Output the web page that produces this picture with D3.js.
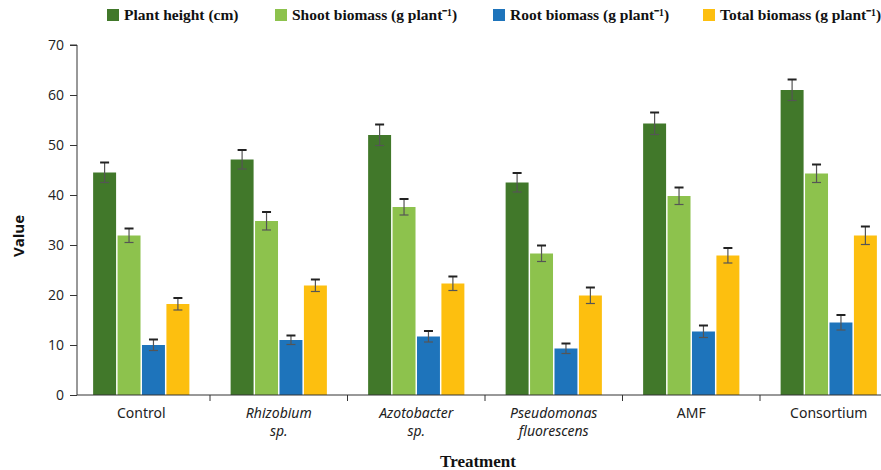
<!DOCTYPE html>
<html><head><meta charset="utf-8">
<script src="https://cdn.jsdelivr.net/npm/d3@7/dist/d3.min.js"></script>
<style>body{margin:0;background:#fff}svg{display:block}</style>
</head><body><svg id="c" width="881" height="470"></svg>
<script>
const categories = ["Control", "Rhizobium sp.", "Azotobacter sp.", "Pseudomonas fluorescens", "AMF", "Consortium"];
const catLines = [["Control"], ["Rhizobium", "sp."], ["Azotobacter", "sp."], ["Pseudomonas", "fluorescens"], ["AMF"], ["Consortium"]];
const catItalic = [false, true, true, true, false, false];
const seriesNames = ["Plant height (cm)", "Shoot biomass (g plant\u207B\u00B9)", "Root biomass (g plant\u207B\u00B9)", "Total biomass (g plant\u207B\u00B9)"];
const colors = ["#41782a", "#8dc24d", "#1e74bb", "#fdbf0f"];
const plantHeight = [44.5, 47.1, 52.0, 42.5, 54.3, 61.0];
const shootBiomass = [31.9, 34.8, 37.6, 28.3, 39.8, 44.3];
const rootBiomass = [10.0, 11.0, 11.7, 9.3, 12.7, 14.5];
const totalBiomass = [18.2, 21.9, 22.3, 19.9, 27.9, 31.9];
const plantHeightErr = [2.0, 1.9, 2.1, 1.9, 2.2, 2.1];
const shootBiomassErr = [1.4, 1.8, 1.6, 1.6, 1.7, 1.8];
const rootBiomassErr = [1.1, 0.9, 1.1, 1.0, 1.2, 1.5];
const totalBiomassErr = [1.2, 1.2, 1.4, 1.6, 1.5, 1.8];
const yTicks = [0, 10, 20, 30, 40, 50, 60, 70];

const values = [plantHeight, shootBiomass, rootBiomass, totalBiomass];
const errs = [plantHeightErr, shootBiomassErr, rootBiomassErr, totalBiomassErr];

const svg = d3.select("#c");
const x = d3.scaleBand().domain(categories).range([72.5, 897.5]).paddingInner(0.3).paddingOuter(0.15);
const xi = d3.scaleBand().domain(seriesNames).range([0, x.bandwidth()]).paddingInner(0.06);
const y = d3.scaleLinear().domain([0, 70]).range([395, 45]);
const axisX = 77;

// y axis
const ya = svg.append("g").attr("transform", `translate(${axisX},0)`)
  .call(d3.axisLeft(y).tickValues(yTicks).tickSize(7).tickPadding(6));
ya.select(".domain").attr("stroke", "#333").attr("d", `M-7,${y(70)}H0V${y(0)}`);
ya.selectAll(".tick line").attr("stroke", "#333");
ya.selectAll(".tick text").attr("font-family", "'Open Sans', sans-serif").attr("font-size", 14).attr("fill", "#222");

// bars
const data = [];
categories.forEach((c, i) => seriesNames.forEach((s, j) => data.push({c, s, j, v: values[j][i], e: errs[j][i]})));
svg.append("g").selectAll("rect").data(data).join("rect")
  .attr("x", d => x(d.c) + xi(d.s))
  .attr("width", xi.bandwidth())
  .attr("y", d => y(d.v))
  .attr("height", d => y(0) - y(d.v))
  .attr("fill", d => colors[d.j]);

// error bars
const eg = svg.append("g").attr("stroke", "#333");
data.forEach(d => {
  const cx = x(d.c) + xi(d.s) + xi.bandwidth() / 2;
  eg.append("line").attr("x1", cx).attr("x2", cx).attr("y1", y(d.v + d.e)).attr("y2", y(d.v - d.e)).attr("stroke-width", 1.2).attr("stroke", "#555");
  eg.append("line").attr("x1", cx - 4.5).attr("x2", cx + 4.5).attr("y1", y(d.v + d.e)).attr("y2", y(d.v + d.e)).attr("stroke-width", 2).attr("stroke", "#222");
  eg.append("line").attr("x1", cx - 4.5).attr("x2", cx + 4.5).attr("y1", y(d.v - d.e)).attr("y2", y(d.v - d.e)).attr("stroke-width", 1.2).attr("stroke", "#555");
});

// x axis
svg.append("line").attr("x1", axisX).attr("x2", 881).attr("y1", y(0)).attr("y2", y(0)).attr("stroke", "#333");
const step = x.step();
categories.slice(1).forEach(c => {
  const bx = x(c) - step * x.paddingInner() / 2;
  svg.append("line").attr("x1", bx).attr("x2", bx).attr("y1", y(0)).attr("y2", y(0) + 6).attr("stroke", "#333");
});
categories.forEach((c, i) => {
  const t = svg.append("text").attr("x", x(c) + x.bandwidth() / 2).attr("y", 418)
    .attr("text-anchor", "middle").attr("font-family", "'Noto Sans', sans-serif").attr("font-size", 14)
    .attr("fill", "#222").attr("font-style", catItalic[i] ? "italic" : "normal");
  catLines[i].forEach((l, k) => t.append("tspan").attr("x", x(c) + x.bandwidth() / 2).attr("dy", k ? 18 : 0).text(l));
});

// axis titles
svg.append("text").attr("x", 478).attr("y", 467).attr("text-anchor", "middle")
  .attr("font-family", "'Liberation Serif', serif").attr("font-weight", "bold").attr("font-size", 17).attr("fill", "#111").text("Treatment");
svg.append("text").attr("transform", "translate(24,236) rotate(-90)").attr("text-anchor", "middle")
  .attr("font-family", "'Open Sans', sans-serif").attr("font-weight", "bold").attr("font-size", 15).attr("fill", "#111").text("Value");

// legend
const legX = [107, 275, 493, 703];
seriesNames.forEach((s, j) => {
  svg.append("rect").attr("x", legX[j]).attr("y", 9).attr("width", 12).attr("height", 12).attr("fill", colors[j]);
  svg.append("text").attr("x", legX[j] + 17).attr("y", 20).attr("font-family", "'Liberation Serif', serif")
    .attr("font-size", 15.5).attr("font-weight", 600).attr("fill", "#111").text(s);
});
</script></body></html>
